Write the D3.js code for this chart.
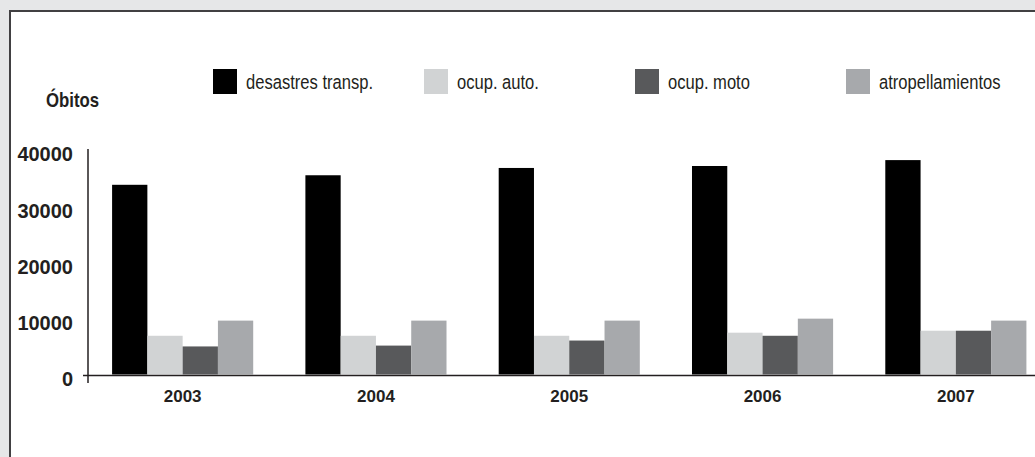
<!DOCTYPE html>
<html>
<head>
<meta charset="utf-8">
<script src="https://cdn.jsdelivr.net/npm/d3@7"></script>
<style>
	body { margin: 0; padding: 0; background: #e6e7e8; }
	svg { display: block; }
	.tick text { fill: #231f20; }
</style>
</head>
<body>
<div id="chart"></div>
<script>
var years = ["2003", "2004", "2005", "2006", "2007"];
var series = ["desastres transp.", "ocup. auto.", "ocup. moto", "atropellamientos"];
var colors = ["#000000", "#d1d3d4", "#58595b", "#a7a9ac"];

var desastres = [33800, 35500, 36800, 37150, 38200];
var auto = [6900, 6900, 6900, 7450, 7800];
var moto = [5000, 5150, 6050, 6900, 7800];
var atropell = [9600, 9600, 9600, 9950, 9600];

var yTicks = [0, 10000, 20000, 30000, 40000];

var values = [desastres, auto, moto, atropell];

var W = 1035, H = 457;

// condensed look: no narrow font installed, so squeeze text horizontally
var squeeze = 0.85;

var svg = d3.select("#chart").append("svg")
			.attr("width", W)
			.attr("height", H);

// background + panel
svg.append("rect")
   .attr("width", W).attr("height", H)
   .attr("fill", "#e6e7e8");

svg.append("rect")
   .attr("x", 10).attr("y", 11)
   .attr("width", W + 50).attr("height", H + 50)
   .attr("fill", "#ffffff")
   .attr("stroke", "#414042")
   .attr("stroke-width", 2);

// scales
var x = d3.scaleBand()
		  .domain(years)
		  .range([86, 1052.5])
		  .paddingInner(0.27)
		  .paddingOuter(0.135);

var xs = d3.scaleBand()
		   .domain(series)
		   .range([0, x.bandwidth()]);

var y = d3.scaleLinear()
		  .domain([0, 40000])
		  .range([374.5, 150]);

// rows: one per year
var rows = years.map(function(yr, i) {
	return { year: yr, vals: series.map(function(s, j) { return { s: s, v: values[j][i], c: colors[j] }; }) };
});

var groups = svg.append("g").selectAll(".grp")
				.data(rows)
				.enter().append("g")
				.attr("class", "grp")
				.attr("transform", d => "translate(" + x(d.year) + ",0)");

groups.selectAll("rect")
	  .data(d => d.vals)
	  .enter().append("rect")
	  .attr("x", d => xs(d.s))
	  .attr("y", d => y(d.v))
	  .attr("width", xs.bandwidth())
	  .attr("height", d => y(0) - y(d.v))
	  .attr("fill", d => d.c);

// axis lines
svg.append("line")
   .attr("x1", 88).attr("x2", 88)
   .attr("y1", 149).attr("y2", 383)
   .attr("stroke", "#231f20").attr("stroke-width", 1.5);

svg.append("line")
   .attr("x1", 83).attr("x2", W)
   .attr("y1", 375.5).attr("y2", 375.5)
   .attr("stroke", "#231f20").attr("stroke-width", 1.5);

// y axis labels
var yAxis = svg.append("g")
			   .attr("transform", "translate(88,4.5)")
			   .call(d3.axisLeft(y).tickValues(yTicks).tickSize(0).tickPadding(15).tickFormat(d3.format("d")));

yAxis.select(".domain").remove();
yAxis.selectAll("text")
	 .attr("font-family", "'Liberation Sans', Arial, sans-serif")
	 .attr("font-weight", "bold")
	 .attr("font-size", "20px");

// x axis labels
var xAxis = svg.append("g")
			   .attr("transform", "translate(0,375)")
			   .call(d3.axisBottom(x).tickSize(0).tickPadding(15));

xAxis.select(".domain").remove();
xAxis.selectAll("text")
	 .attr("font-family", "'Liberation Sans', Arial, sans-serif")
	 .attr("font-weight", "bold")
	 .attr("font-size", "17px");

// y title
svg.append("text")
   .attr("transform", "translate(46,107) scale(" + 0.84 + ",1)")
   .attr("font-family", "'Liberation Sans', Arial, sans-serif")
   .attr("font-weight", "bold")
   .attr("font-size", "20px")
   .attr("fill", "#231f20")
   .text("Óbitos");

// legend
var legX = d3.scalePoint().domain(series).range([213, 846]);

var leg = svg.append("g").selectAll(".legend")
			 .data(series)
			 .enter().append("g")
			 .attr("class", "legend")
			 .attr("transform", d => "translate(" + legX(d) + ",69)");

leg.append("rect")
   .attr("width", 24)
   .attr("height", 25)
   .attr("fill", (d, i) => colors[i]);

leg.append("text")
   .attr("transform", "translate(33,20) scale(" + squeeze + ",1)")
   .attr("font-family", "'Liberation Sans', Arial, sans-serif")
   .attr("font-size", "19.5px")
   .attr("font-weight", 500)
   .attr("fill", "#231f20")
   .text(d => d);
</script>
</body>
</html>
